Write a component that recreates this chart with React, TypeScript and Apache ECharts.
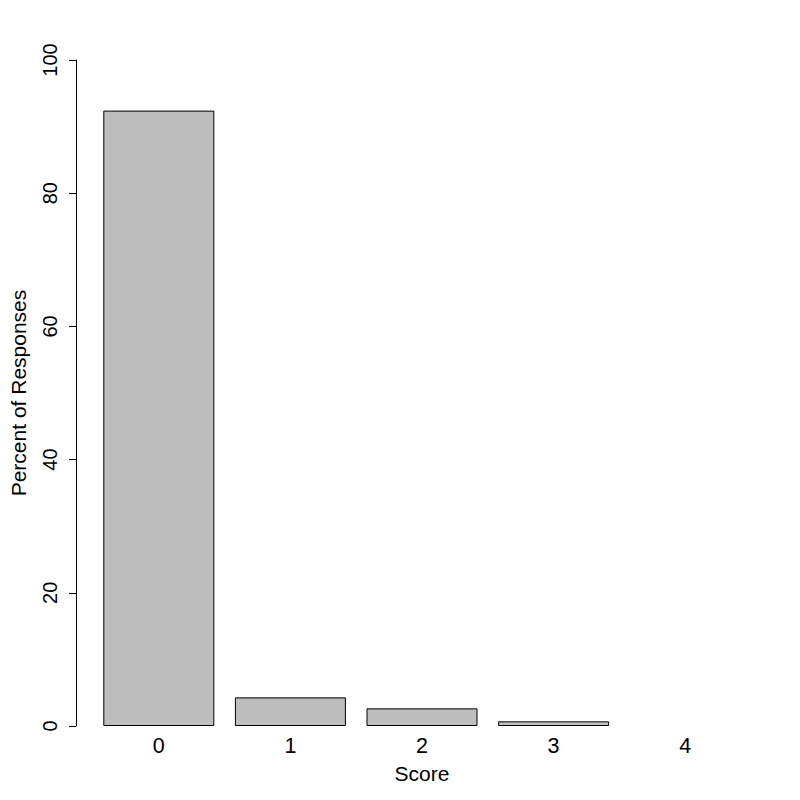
import React, { useEffect, useRef } from "react";
import * as echarts from "echarts";

const categories = ["0", "1", "2", "3", "4"];
const percentValues = [92.4, 4.3, 2.65, 0.7, 0];
const yTicks = [0, 20, 40, 60, 80, 100];

export default function App() {
  const ref = useRef<HTMLDivElement>(null);
  useEffect(() => {
    if (!ref.current) return;
    const chart = echarts.init(ref.current, null, { renderer: "svg" });
    const font = "Liberation Sans, Arial, sans-serif";
    chart.setOption({
      animation: false,
      backgroundColor: "#ffffff",
      grid: { left: 86, right: 49, top: 60, bottom: 74 },
      xAxis: {
        type: "category",
        data: categories,
        axisLine: { show: false },
        axisTick: { show: false },
        axisLabel: { fontSize: 21.5, color: "#000", fontFamily: font, margin: 9 },
        name: "Score",
        nameLocation: "middle",
        nameGap: 37,
        nameTextStyle: { fontSize: 21, color: "#000", fontFamily: font },
      },
      yAxis: {
        type: "value",
        min: yTicks[0],
        max: yTicks[yTicks.length - 1],
        interval: 20,
        offset: 17,
        axisLine: { show: true, lineStyle: { color: "#000", width: 1 } },
        axisTick: { show: true, length: 7, lineStyle: { color: "#000" } },
        splitLine: { show: false },
        axisLabel: {
          fontSize: 20,
          color: "#000",
          fontFamily: font,
          rotate: 90,
          margin: 16,
        },
        name: "Percent of Responses",
        nameLocation: "middle",
        nameGap: 47,
        nameTextStyle: { fontSize: 21, color: "#000", fontFamily: font },
      },
      series: [
        {
          type: "bar",
          data: percentValues.map((v) =>
            v === 0 ? { value: v, itemStyle: { borderWidth: 0 } } : v
          ),
          barWidth: 111,
          itemStyle: { color: "#bebebe", borderColor: "#000", borderWidth: 1 },
        },
      ],
    });
    return () => chart.dispose();
  }, []);
  return (
    <div
      ref={ref}
      style={{ position: "absolute", left: 0, top: 0, width: 800, height: 800 }}
    />
  );
}
